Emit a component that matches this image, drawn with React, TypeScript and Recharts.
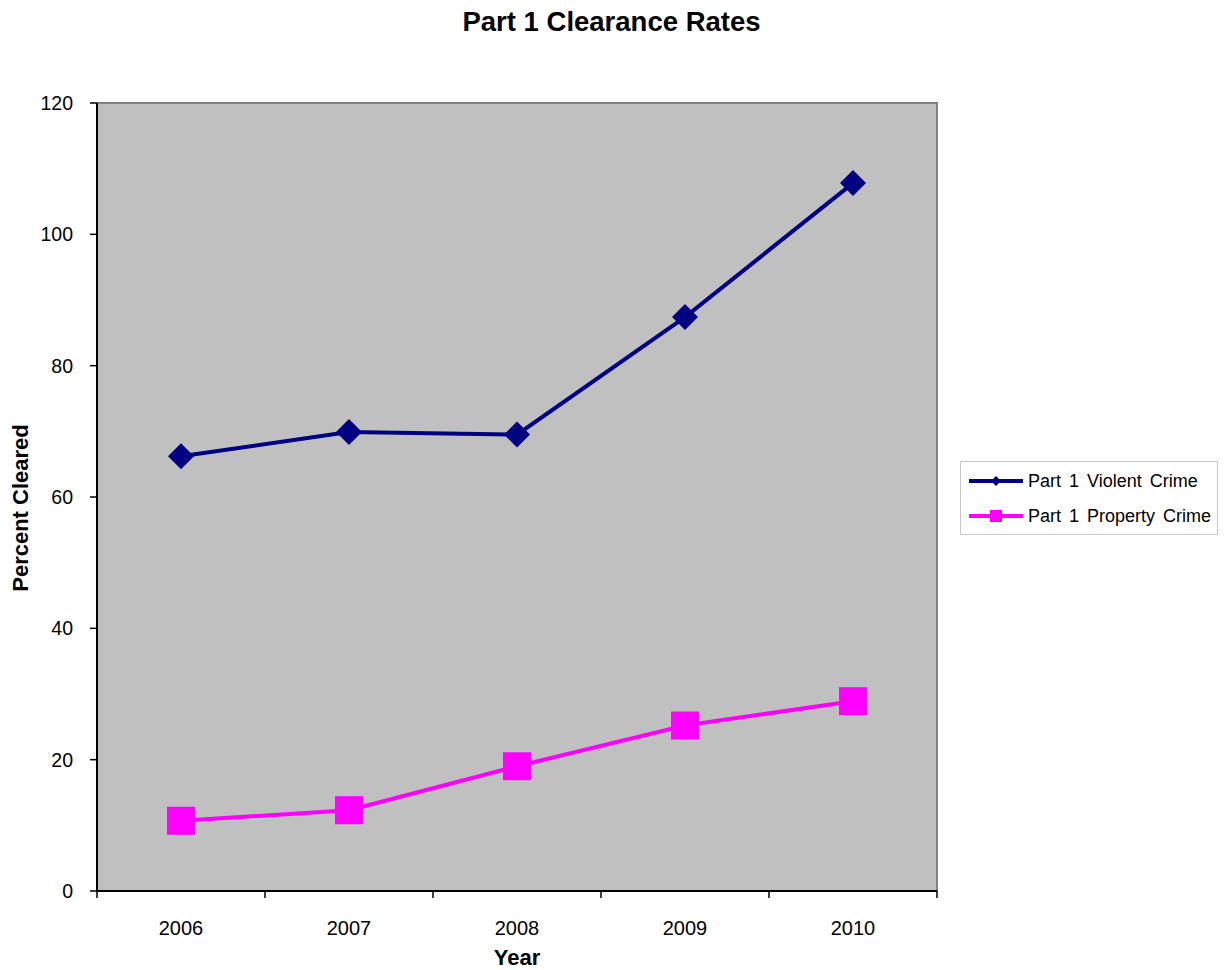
import React from "react";
import {
  LineChart,
  Line,
  XAxis,
  YAxis,
  CartesianGrid,
  ReferenceArea,
  Label,
} from "recharts";

// values
const years = [2006, 2007, 2008, 2009, 2010];
const violentCrime = [66.2, 69.9, 69.5, 87.4, 107.8];
const propertyCrime = [10.7, 12.3, 19.0, 25.2, 28.9];
const yTicks = [0, 20, 40, 60, 80, 100, 120];
// category boundaries (where Excel draws the x tick marks)
const xBoundaries = [2005.5, 2006.5, 2007.5, 2008.5, 2009.5, 2010.5];

const series = [
  { key: "violent", name: "Part 1 Violent Crime", color: "#000080", shape: "diamond" },
  { key: "property", name: "Part 1 Property Crime", color: "#FF00FF", shape: "square" },
];

const chartData = years.map((year, i) => ({
  year,
  violent: violentCrime[i],
  property: propertyCrime[i],
}));

const FONT = "'Liberation Sans', Arial, sans-serif";

const DiamondDot = ({ cx, cy, fill }: any) => {
  if (cx == null || cy == null) return null;
  const r = 13;
  return (
    <polygon
      points={`${cx},${cy - r} ${cx + r},${cy} ${cx},${cy + r} ${cx - r},${cy}`}
      fill={fill}
    />
  );
};

const SquareDot = ({ cx, cy, fill }: any) => {
  if (cx == null || cy == null) return null;
  const s = 28;
  return <rect x={cx - s / 2} y={cy - s / 2} width={s} height={s} fill={fill} />;
};

// x ticks: labels on whole years, tick marks on half years
const XTick = ({ x, y, payload }: any) => {
  const v = payload.value;
  if (v % 1 !== 0) {
    return <line x1={x} y1={y} x2={x} y2={y + 7} stroke="#000" strokeWidth={1.5} />;
  }
  return (
    <text x={x} y={y + 44} textAnchor="middle" fontSize={20} fontFamily={FONT} fill="#000">
      {v}
    </text>
  );
};

const LegendBox = () => (
  <div
    style={{
      position: "absolute",
      left: 960,
      top: 461,
      width: 258,
      height: 74,
      border: "1px solid #c8c8c8",
      boxSizing: "border-box",
      background: "#fff",
      fontFamily: FONT,
      fontSize: 18,
      color: "#000",
    }}
  >
    {series.map((s, i) => (
      <div
        key={s.key}
        style={{ position: "absolute", left: 8, top: 9 + i * 35, height: 20, display: "flex", alignItems: "center" }}
      >
        <svg width={56} height={20}>
          <line x1={0} y1={10} x2={54} y2={10} stroke={s.color} strokeWidth={4} />
          {s.shape === "diamond" ? (
            <polygon points="27,5 32,10 27,15 22,10" fill={s.color} />
          ) : (
            <rect x={21} y={4} width={12} height={12} fill={s.color} />
          )}
        </svg>
        <span style={{ marginLeft: 3, wordSpacing: 3, whiteSpace: "nowrap" }}>{s.name}</span>
      </div>
    ))}
  </div>
);

export default function App() {
  return (
    <div style={{ position: "absolute", left: 0, top: 0, width: 1228, height: 970, background: "#fff" }}>
      <div
        style={{
          position: "absolute",
          left: 0,
          top: 6,
          width: 1223,
          textAlign: "center",
          fontFamily: FONT,
          fontWeight: "bold",
          fontSize: 27.5,
        }}
      >
        Part 1 Clearance Rates
      </div>
      <LineChart
        width={1228}
        height={970}
        data={chartData}
        margin={{ top: 103, right: 291, bottom: 29, left: 37 }}
      >
        <ReferenceArea
          x1={2005.5}
          x2={2010.5}
          y1={0}
          y2={120}
          fill="#C0C0C0"
          fillOpacity={1}
          stroke="#808080"
          strokeWidth={2}
        />
        <CartesianGrid vertical={false} stroke="#222" strokeWidth={1} />
        <XAxis
          dataKey="year"
          type="number"
          domain={[2005.5, 2010.5]}
          ticks={[...xBoundaries, ...years].sort((a, b) => a - b)}
          interval={0}
          height={50}
          tickSize={0}
          tickMargin={0}
          tickLine={false}
          tick={<XTick />}
          axisLine={{ stroke: "#000", strokeWidth: 2 }}
        >
          <Label
            value="Year"
            position="insideBottom"
            offset={-24}
            style={{ fontFamily: FONT, fontWeight: "bold", fontSize: 22, fill: "#000" }}
          />
        </XAxis>
        <YAxis
          domain={[0, 120]}
          ticks={yTicks}
          interval={0}
          width={60}
          tickSize={7}
          tickMargin={17}
          tick={{ fontFamily: FONT, fontSize: 19.5, fill: "#000" }}
          tickLine={{ stroke: "#000", strokeWidth: 1.5 }}
          axisLine={{ stroke: "#000", strokeWidth: 2 }}
        >
          <Label
            content={({ viewBox }: any) => {
              const cy = viewBox.y + viewBox.height / 2 + 11;
              return (
                <text
                  x={20}
                  y={cy}
                  transform={`rotate(-90, 20, ${cy})`}
                  textAnchor="middle"
                  dominantBaseline="central"
                  fontFamily={FONT}
                  fontWeight="bold"
                  fontSize={22}
                  fill="#000"
                >
                  Percent Cleared
                </text>
              );
            }}
          />
        </YAxis>
        <Line
          dataKey="violent"
          name={series[0].name}
          stroke={series[0].color}
          fill={series[0].color}
          strokeWidth={4}
          dot={<DiamondDot />}
          activeDot={false}
          isAnimationActive={false}
        />
        <Line
          dataKey="property"
          name={series[1].name}
          stroke={series[1].color}
          fill={series[1].color}
          strokeWidth={4}
          dot={<SquareDot />}
          activeDot={false}
          isAnimationActive={false}
        />
      </LineChart>
      <LegendBox />
    </div>
  );
}
